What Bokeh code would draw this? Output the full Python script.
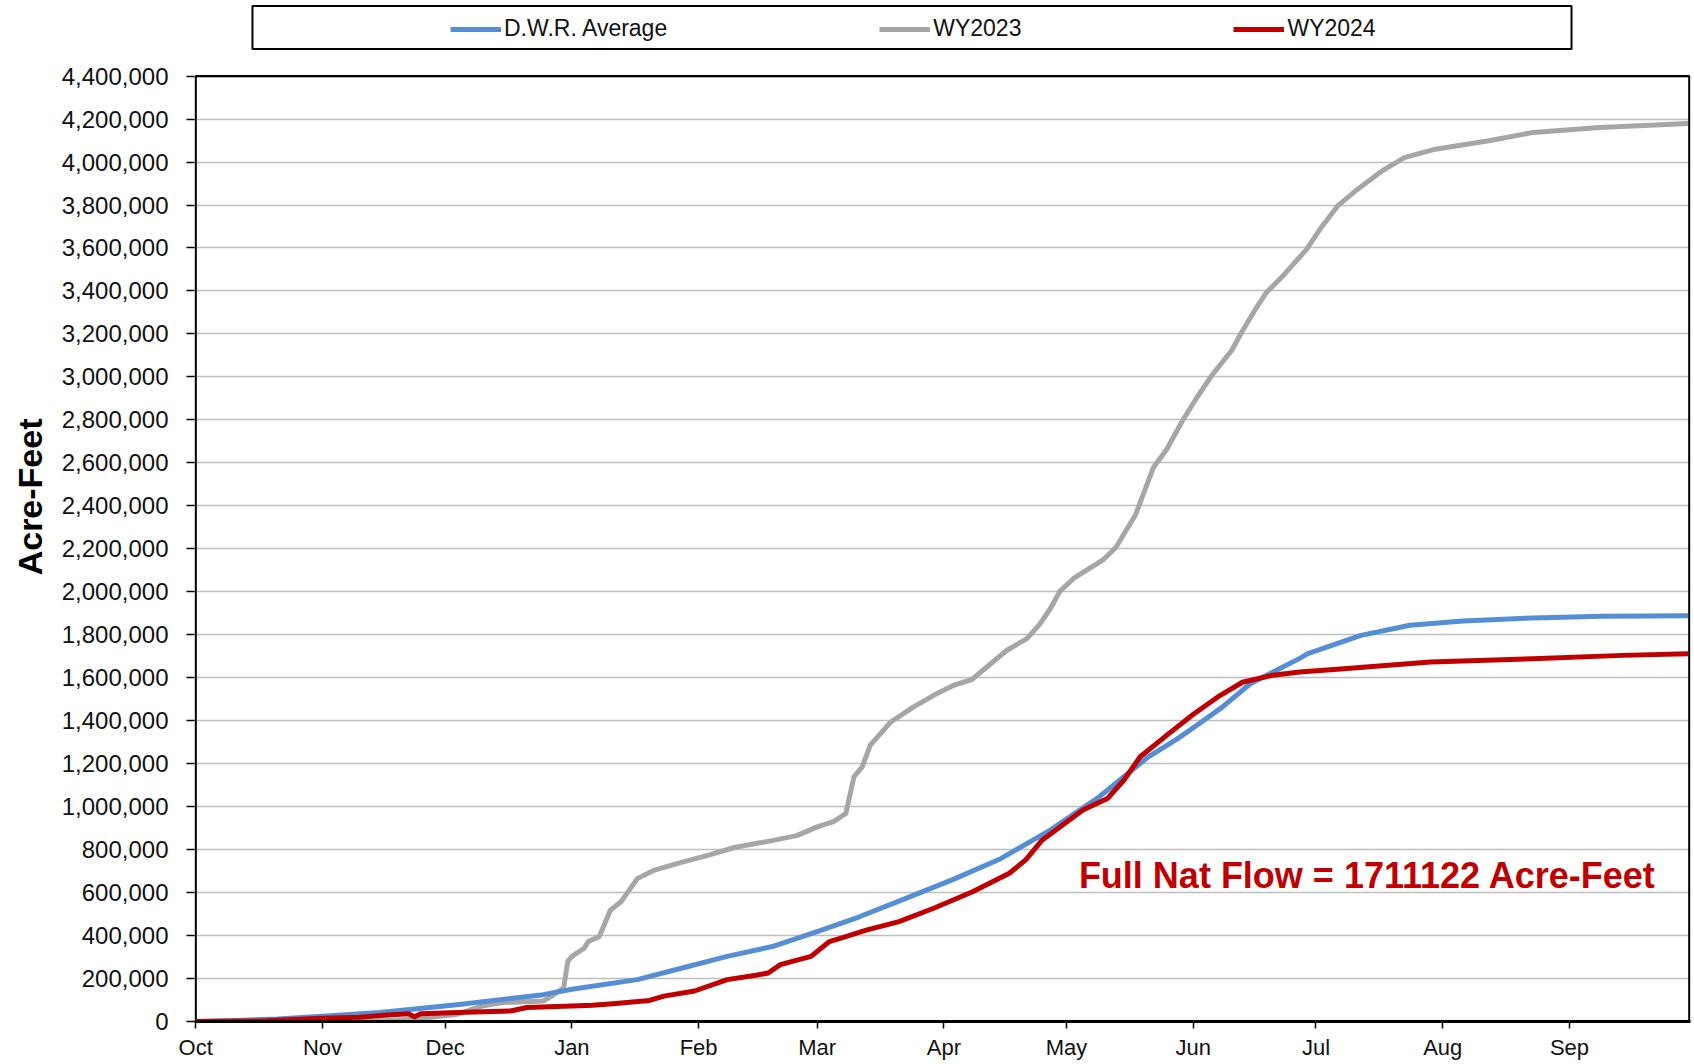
import math
from bokeh.plotting import figure
from bokeh.models import (Range1d, FixedTicker, NumeralTickFormatter, Legend, LegendItem, Label, Title)
from bokeh.embed import file_html
from bokeh.resources import INLINE

# ---------------- data (day index from Oct 1, acre-feet) ----------------
month_ticks = [0, 31, 61, 92, 123, 152, 183, 213, 244, 274, 305, 336]
month_labels = ["Oct", "Nov", "Dec", "Jan", "Feb", "Mar", "Apr", "May", "Jun", "Jul", "Aug", "Sep"]

avg_days = [0, 10, 20, 31, 45, 53, 65, 75, 85, 92, 108, 119, 130, 141, 152, 162, 172, 185, 197, 209,
            221, 233, 240, 246, 251, 258, 261, 270, 272, 285, 297, 310, 327, 344, 365]
avg_vals = [0, 5000, 12000, 25000, 42000, 57000, 80000, 103000, 125000, 150000,
            195000, 249000, 303000, 349000, 418000, 485000, 560000, 659000, 759000, 891000,
            1046000, 1232000, 1314000, 1394000, 1462000, 1573000, 1602000, 1690000, 1712000, 1797000,
            1844000, 1864000, 1878000, 1886000, 1888000]

wy2023_days = [0, 42, 53, 64, 70, 75, 85, 87, 90, 91, 92, 95, 96, 98.7, 101.4, 104, 108, 112, 119, 125,
               132, 141, 147, 152, 156, 159, 161, 163, 165, 170, 175.6, 180.5, 185.4, 189.8, 193.5, 198.4,
               203.3, 206.5, 209, 211.4, 214.7, 222, 225, 229.9, 234.2, 237.5, 241.3, 244.6, 248.4, 253.3,
               256, 259.2, 261.9, 266.3, 271.7, 275, 279.3, 283.7, 290.2, 295.6, 303.2, 316.3, 327.1, 343.4, 365]
wy2023_vals = [0, 0, 10000, 34000, 72000, 88000, 95000, 118000, 157000, 280000,
               303000, 341000, 372000, 395000, 518000, 557000, 665000, 703000, 742000, 772000,
               811000, 842000, 865000, 906000, 930000, 968000, 1139000, 1185000, 1286000, 1394000,
               1464000, 1518000, 1565000, 1591000, 1650000, 1728000, 1782000, 1851000, 1921000, 2003000,
               2062000, 2150000, 2205000, 2360000, 2577000, 2663000, 2795000, 2896000, 3004000, 3121000,
               3214000, 3315000, 3393000, 3478000, 3594000, 3688000, 3796000, 3866000, 3959000, 4021000,
               4060000, 4099000, 4138000, 4161000, 4180000]

wy2024_days = [0, 17, 31, 40, 47, 52, 53.5, 55, 64, 77, 81, 92, 97, 102, 111, 114.5, 122, 130, 137, 140,
               143, 150.5, 155, 159, 164, 172, 180.5, 190, 199, 203, 207, 217, 223, 227, 231, 238, 244,
               250.5, 256, 263, 270, 280, 302, 327, 349, 365]
wy2024_vals = [0, 3000, 15000, 20000, 30000, 36000, 22000, 36000, 42000, 49000,
               65000, 72000, 76000, 83000, 98000, 118000, 142000, 195000, 215000, 226000,
               265000, 303000, 372000, 395000, 425000, 465000, 527000, 604000, 690000, 752000,
               844000, 984000, 1038000, 1123000, 1232000, 1340000, 1430000, 1517000, 1579000, 1610000,
               1627000, 1641000, 1673000, 1688000, 1704000, 1711122]

y_ticks = list(range(0, 4400001, 200000))
Y_TOP = 4400000
X_END = 365.3

FONT = "Liberation Sans"
BLUE = "#558ED5"
GRAY = "#A6A6A6"
RED = "#C00000"

p = figure(width=1694, height=1064, output_backend="svg", toolbar_location=None,
           x_range=Range1d(-0.3, 365.6), y_range=Range1d(0, 4751900),
           min_border_left=194, min_border_right=4, min_border_top=0, min_border_bottom=43)
p.outline_line_color = None
p.background_fill_color = "white"
p.border_fill_color = "white"

# grid
p.xgrid.visible = False
p.ygrid.ticker = FixedTicker(ticks=y_ticks)
p.ygrid.grid_line_color = "#BEBEBE"
p.ygrid.grid_line_width = 1.6

# y axis
p.yaxis.ticker = FixedTicker(ticks=y_ticks)
p.yaxis.formatter = NumeralTickFormatter(format="0,0")
p.yaxis.axis_line_color = None
p.yaxis.major_tick_line_color = "black"
p.yaxis.major_tick_line_width = 1.5
p.yaxis.major_tick_out = 8
p.yaxis.major_tick_in = 0
p.yaxis.minor_tick_line_color = None
p.yaxis.major_label_standoff = 18
p.yaxis.major_label_text_font = FONT
p.yaxis.major_label_text_font_size = "24px"
p.yaxis.major_label_text_color = "#111111"

# x axis
p.xaxis.ticker = FixedTicker(ticks=month_ticks)
p.xaxis.major_label_overrides = {t: l for t, l in zip(month_ticks, month_labels)}
p.xaxis.axis_line_color = "black"
p.xaxis.axis_line_width = 3
p.xaxis.major_tick_line_color = "black"
p.xaxis.major_tick_line_width = 1.5
p.xaxis.major_tick_out = 7
p.xaxis.major_tick_in = 0
p.xaxis.minor_tick_line_color = None
p.xaxis.major_label_standoff = 6
p.xaxis.major_label_text_font = FONT
p.xaxis.major_label_text_font_size = "22px"
p.xaxis.major_label_text_color = "#111111"

# y-axis title as a side title (top end placed like the reference)
p.add_layout(Title(text="Acre-Feet", align="right", offset=418, vertical_align="top", standoff=15,
                   text_font=FONT, text_font_style="bold", text_font_size="34px",
                   text_color="black"), "left")

# plot-area border
p.line([0, 0, X_END, X_END], [0, Y_TOP, Y_TOP, 0], line_color="black", line_width=2.2)

# legend box (drawn in the area above the plot border)
p.quad(left=[13.88], right=[336.5], bottom=[4525700], top=[4726800],
       fill_color="white", line_color="black", line_width=2)

r23 = p.line(wy2023_days, wy2023_vals, line_color=GRAY, line_width=5, line_join="round")
ravg = p.line(avg_days, avg_vals, line_color=BLUE, line_width=5, line_join="round")
r24 = p.line(wy2024_days, wy2024_vals, line_color=RED, line_width=5, line_join="round")

legend = Legend(items=[LegendItem(label="D.W.R. Average", renderers=[ravg]),
                       LegendItem(label="WY2023", renderers=[r23]),
                       LegendItem(label="WY2024", renderers=[r24])],
                orientation="horizontal", location=(256, 979), spacing=212,
                glyph_width=51, glyph_height=26, label_height=26, label_standoff=3,
                padding=6, margin=0, border_line_color=None, background_fill_alpha=0,
                label_text_font=FONT, label_text_font_size="23px", label_text_color="#111111")
p.add_layout(legend)

p.add_layout(Label(x=286.6, y=679500, text="Full Nat Flow = 1711122 Acre-Feet",
                   text_align="center", text_baseline="middle", text_font=FONT,
                   text_font_style="bold", text_font_size="36px", text_color=RED))

open("out.html", "w").write(file_html(p, INLINE))
